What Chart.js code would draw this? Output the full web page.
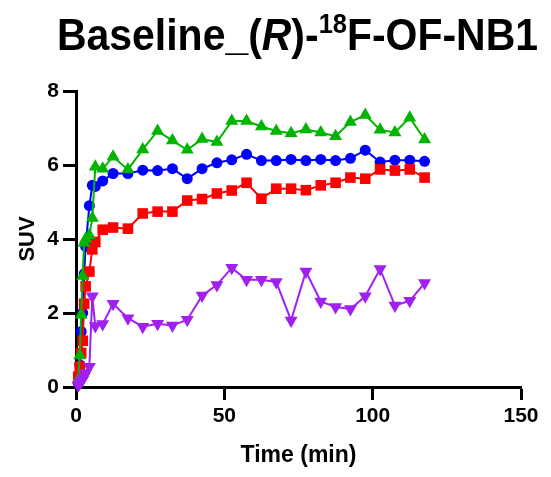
<!DOCTYPE html>
<html>
<head>
<meta charset="utf-8">
<script src="https://cdn.jsdelivr.net/npm/chart.js@4.4.1/dist/chart.umd.min.js"></script>
<style>
  html, body { margin: 0; padding: 0; background: #fff; }
  #wrap { width: 551px; height: 477px; }
</style>
</head>
<body>
<div id="wrap"><canvas id="chart" width="551" height="477"></canvas></div>
<script>
/* Data (time in min, SUV) */
const times = [0.75, 1.25, 1.75, 2.25, 2.75, 3.25, 4.5, 5.5, 6.5, 9,
    12.5, 17.5, 22.5, 27.5, 32.5, 37.5, 42.5, 47.5, 52.5, 57.5, 62.5,
    67.5, 72.5, 77.5, 82.5, 87.5, 92.5, 97.5, 102.5, 107.5, 112.5, 117.5];

const greenSUV = [0.2, 0.85, 1.95, 3.0, 3.9, 4.0, 4.1, 4.57, 5.95, 5.9,
    6.22, 5.88, 6.42, 6.92, 6.66, 6.41, 6.70, 6.62, 7.19, 7.19, 7.04,
    6.92, 6.86, 6.96, 6.88, 6.78, 7.16, 7.35, 6.95, 6.88, 7.28, 6.69];

const blueSUV = [0.1, 0.6, 1.5, 2.0, 3.06, 3.8, 4.9, 5.45, 5.42, 5.57,
    5.77, 5.77, 5.86, 5.85, 5.90, 5.63, 5.90, 6.06, 6.14, 6.29, 6.12,
    6.12, 6.15, 6.12, 6.15, 6.12, 6.18, 6.40, 6.08, 6.13, 6.13, 6.10];

const redSUV = [0.28, 0.55, 0.92, 1.25, 2.25, 2.72, 3.12, 3.72, 3.92, 4.25,
    4.31, 4.28, 4.69, 4.74, 4.74, 5.04, 5.08, 5.23, 5.31, 5.52, 5.09,
    5.36, 5.36, 5.32, 5.45, 5.52, 5.66, 5.63, 5.88, 5.85, 5.88, 5.66];

const purpleSUV = [0.05, 0.1, 0.15, 0.2, 0.28, 0.38, 0.55, 2.45, 1.65, 1.7,
    2.25, 1.86, 1.63, 1.71, 1.66, 1.82, 2.47, 2.76, 3.22, 2.90, 2.90,
    2.84, 1.80, 3.12, 2.31, 2.16, 2.11, 2.45, 3.19, 2.20, 2.33, 2.81];

const xTicks = [0, 50, 100, 150];
const yTicks = [0, 2, 4, 6, 8];

const FONT = "'Liberation Sans', Arial, sans-serif";

function pts(values) {
    return values.map((v, i) => ({ x: times[i], y: v }));
}

function series(values, color, style, radius, rotation) {
    return {
        data: pts(values),
        borderColor: color,
        backgroundColor: color,
        borderWidth: 2,
        pointStyle: style,
        pointRadius: radius,
        pointRotation: rotation || 0,
        pointBorderWidth: 0,
        pointHoverRadius: radius,
        tension: 0,
        clip: false
    };
}

/* Title with italic R and superscript 18 */
const titlePlugin = {
    id: "titlePlugin",
    afterDraw(chart) {
        const ctx = chart.ctx;
        const size = 45;
        const parts = [
            { t: "Baseline_(", f: `bold ${size}px ${FONT}`, dy: 0 },
            { t: "R", f: `italic bold ${size}px ${FONT}`, dy: 0 },
            { t: ")-", f: `bold ${size}px ${FONT}`, dy: 0 },
            { t: "18", f: `bold ${Math.round(size * 0.62)}px ${FONT}`, dy: -17 },
            { t: "F-OF-NB1", f: `bold ${size}px ${FONT}`, dy: 0 }
        ];
        ctx.save();
        let w = 0;
        parts.forEach(p => { ctx.font = p.f; p.w = ctx.measureText(p.t).width; w += p.w; });
        const left = 57, right = 538, baseY = 50;
        ctx.translate(left, baseY);
        ctx.scale((right - left) / w, 1);
        ctx.fillStyle = "#000";
        ctx.textBaseline = "alphabetic";
        ctx.textAlign = "left";
        let x = 0;
        parts.forEach(p => {
            ctx.font = p.f;
            ctx.fillText(p.t, x, p.dy);
            x += p.w;
        });
        ctx.restore();
    }
};

new Chart(document.getElementById("chart"), {
    type: "line",
    data: {
        datasets: [
            series(purpleSUV, "#a020f0", "triangle", 7.5, 180),
            series(greenSUV, "#00b400", "triangle", 7.5, 0),
            series(redSUV, "#ff0000", "rect", 7.5, 0),
            series(blueSUV, "#0000ff", "circle", 5.5, 0)
        ]
    },
    options: {
        responsive: false,
        animation: false,
        events: [],
        layout: { padding: { top: 91, right: 30, bottom: 0, left: 0 } },
        plugins: { legend: { display: false }, tooltip: { enabled: false }, title: { display: false } },
        scales: {
            x: {
                type: "linear",
                min: 0,
                max: 150,
                afterBuildTicks: s => { s.ticks = xTicks.map(v => ({ value: v })); },
                afterFit: s => { s.height = 90; },
                grid: { drawOnChartArea: false, drawTicks: true, tickLength: 13, tickWidth: 3, tickColor: "#000" },
                border: { display: true, width: 3, color: "#000" },
                ticks: { color: "#000", font: { family: FONT, size: 21, weight: "bold" }, padding: 4, maxRotation: 0 },
                title: { display: true, text: "Time (min)", color: "#000", font: { family: FONT, size: 23, weight: "bold" }, padding: { top: 0, bottom: 8 } }
            },
            y: {
                type: "linear",
                min: 0,
                max: 8,
                afterBuildTicks: s => { s.ticks = yTicks.map(v => ({ value: v })); },
                afterFit: s => { s.width = 76; },
                grid: { drawOnChartArea: false, drawTicks: true, tickLength: 13, tickWidth: 3, tickColor: "#000" },
                border: { display: true, width: 3, color: "#000" },
                ticks: { color: "#000", font: { family: FONT, size: 21, weight: "bold" }, padding: 4 },
                title: { display: true, text: "SUV", color: "#000", font: { family: FONT, size: 22, weight: "bold" }, padding: { top: 15, bottom: 0 } }
            }
        }
    },
    plugins: [titlePlugin]
});
</script>
</body>
</html>
